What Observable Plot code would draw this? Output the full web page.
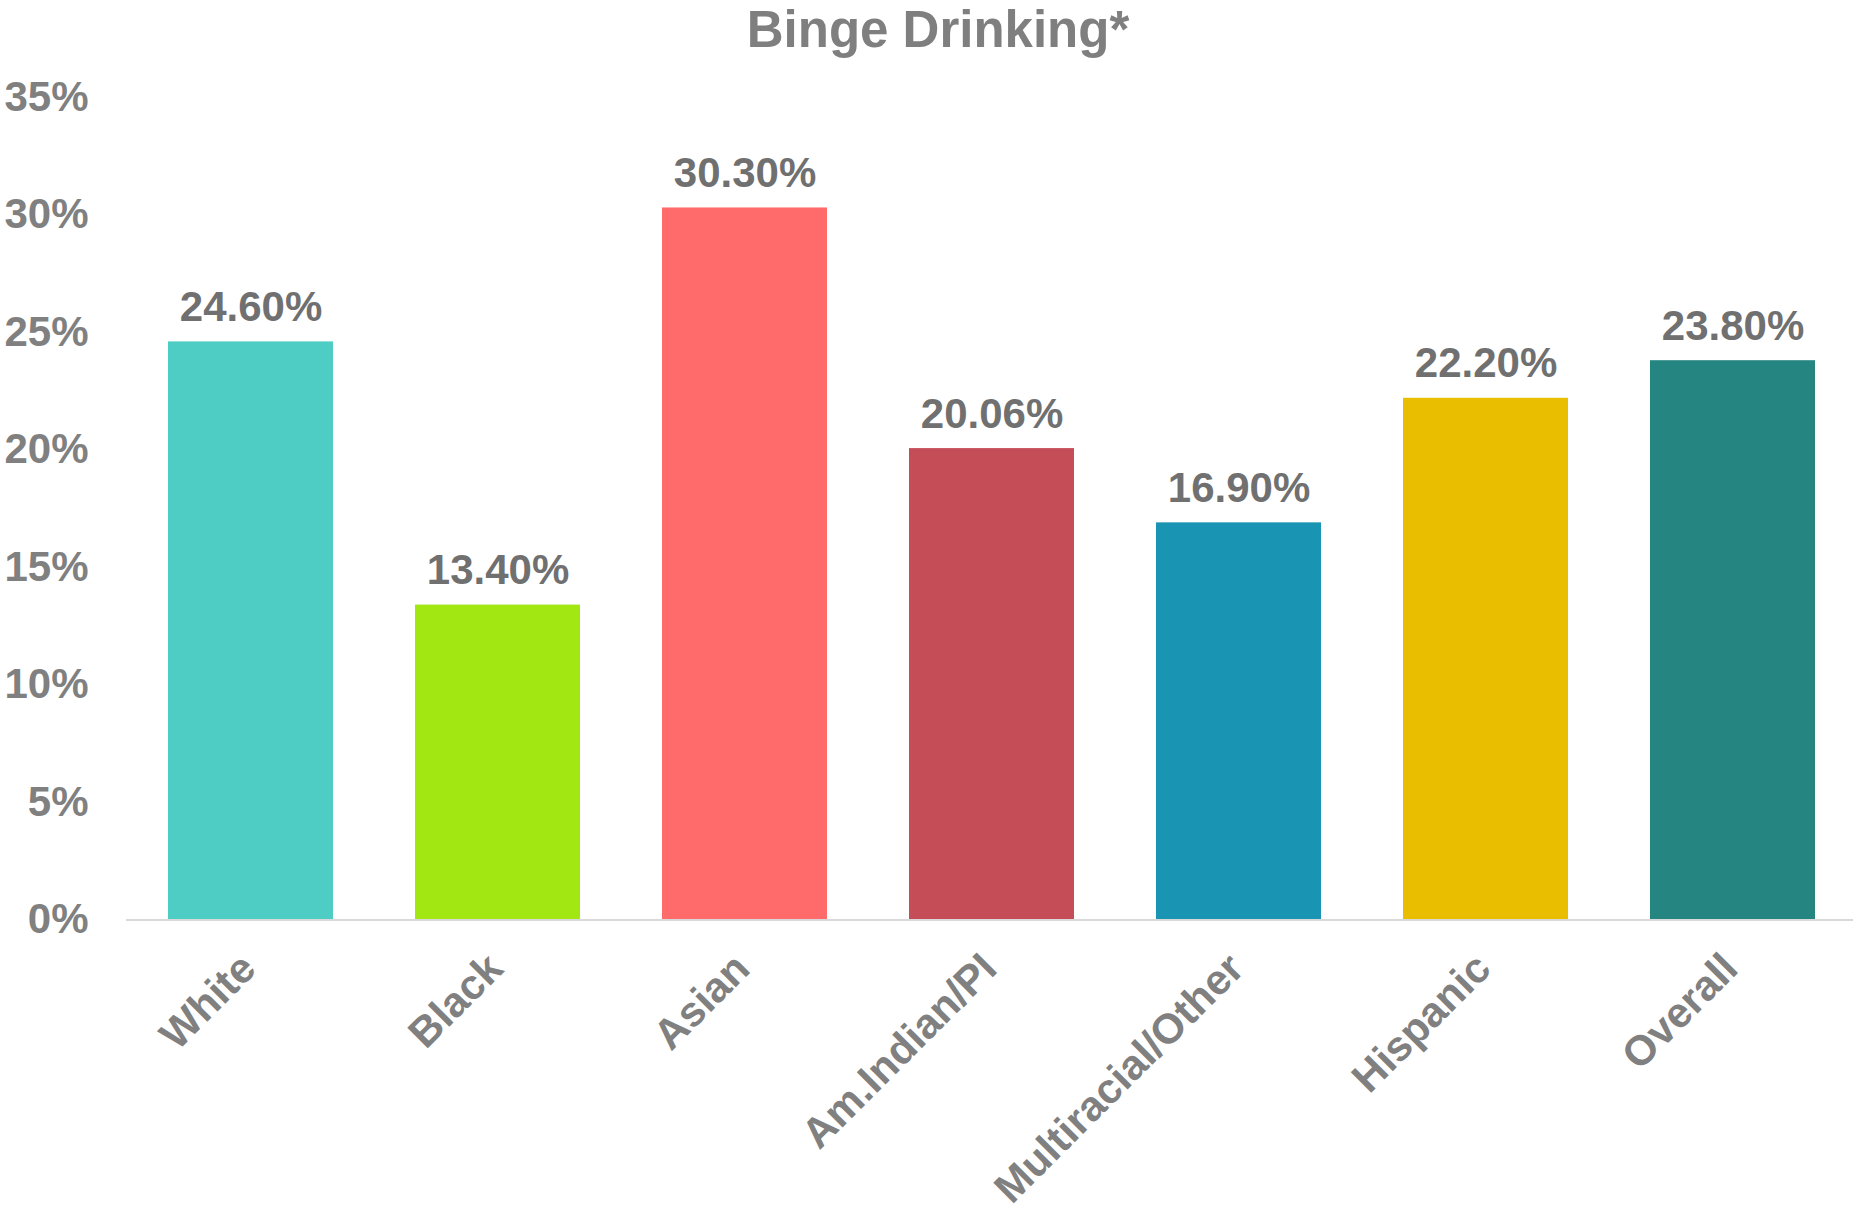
<!DOCTYPE html>
<html><head><meta charset="utf-8">
<script src="https://cdn.jsdelivr.net/npm/d3@7"></script>
<script src="https://cdn.jsdelivr.net/npm/@observablehq/plot@0.6"></script>
<style>
html,body{margin:0;padding:0;background:#fff;overflow:hidden;}
#title{width:1853px;height:62px;box-sizing:border-box;padding-top:4px;padding-left:23px;text-align:center;font:bold 51px/51px "Liberation Sans",Arial,sans-serif;color:#7f7f7f;white-space:nowrap;}
</style></head><body>
<div id="title">Binge Drinking*</div>
<div id="chart"></div>
<script>
const categories = ["White", "Black", "Asian", "Am.Indian/PI", "Multiracial/Other", "Hispanic", "Overall"];
const values = [24.60, 13.40, 30.30, 20.06, 16.90, 22.20, 23.80];
const colors = ["#4ecdc4", "#a3e712", "#ff6b6b", "#c44d58", "#1994b3", "#eabe00", "#248581"];
const yTicks = [0, 5, 10, 15, 20, 25, 30, 35];

const data = categories.map((c, i) => ({category: c, value: values[i]}));

const chart = Plot.plot({
  width: 1853,
  height: 1150,
  marginLeft: 126,
  marginRight: -5,
  marginTop: 35,
  marginBottom: 292.5,
  style: {fontFamily: '"Liberation Sans", Arial, sans-serif', fontWeight: "bold", background: "#fff"},
  x: {domain: categories, paddingInner: 0.33, paddingOuter: 0.165, axis: null},
  y: {domain: [0, 35]},
  color: {domain: categories, range: colors},
  marks: [
    Plot.axisY({ticks: yTicks, tickSize: 0, tickPadding: 38, tickFormat: d => d + "%", fontSize: 42, color: "#808080", fontWeight: "bold", label: null}),
    Plot.barY(data, {x: "category", y: "value", fill: "category"}),
    Plot.ruleY([0], {stroke: "#d9d9d9", strokeWidth: 2}),
    Plot.text(data, {x: "category", y: "value", text: d => d.value.toFixed(2) + "%", lineAnchor: "bottom", dy: -21, fontSize: 42, fill: "#707070", fontWeight: "bold"}),
    Plot.text(data, {x: "category", y: d => 0, text: "category", rotate: -45, textAnchor: "end", lineAnchor: "bottom", dx: 7, dy: 51, fontSize: 42, fill: "#808080", fontWeight: "bold"})
  ]
});
document.getElementById("chart").appendChild(chart);
</script>
</body></html>
